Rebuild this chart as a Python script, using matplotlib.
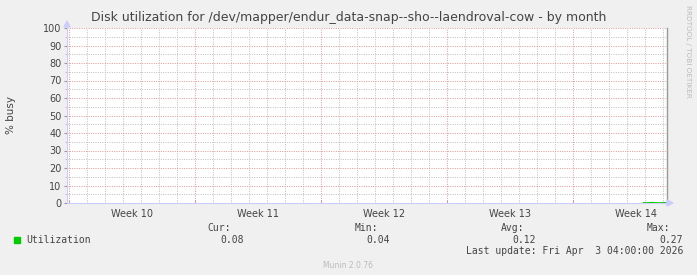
import matplotlib
matplotlib.use("Agg")
import matplotlib.pyplot as plt
from matplotlib.ticker import MultipleLocator, FixedLocator, FixedFormatter

W, H = 697, 275

# data: days since start of Week 10 (Mon), % busy
times = [31.90, 32.07, 32.24, 32.41, 32.58, 32.75, 32.92, 33.09, 33.18]
busy = [0.10, 0.08, 0.15, 0.27, 0.12, 0.04, 0.11, 0.13, 0.08]

week_labels = ["Week 10", "Week 11", "Week 12", "Week 13", "Week 14"]
week_starts = [0, 7, 14, 21, 28]
week_mids = [3.5, 10.5, 17.5, 24.5, 31.5]

stat_names = ["Cur:", "Min:", "Avg:", "Max:"]
stat_values = ["0.08", "0.04", "0.12", "0.27"]

TEXT = "#444444"
MONO = "DejaVu Sans Mono"


def px(x, y):
    return x / W, 1 - y / H


fig = plt.figure(figsize=(W / 100, H / 100), dpi=100, facecolor="#F0F0F0")
left, right, top, bottom = 67, 666.5, 28, 203
ax = fig.add_axes([left / W, 1 - bottom / H, (right - left) / W, (bottom - top) / H])
ax.set_facecolor("white")

ax.plot(times, busy, color="#00CC00", lw=1.0, zorder=4)

ax.set_xlim(-0.128, 33.18)
ax.set_ylim(0, 100)

# grid
dots = (0, (1, 1.4))
for d in range(0, 34):
    if d in week_starts:
        continue
    ax.axvline(d, color="#bdbdbd", lw=0.7, ls=dots, zorder=1)
for d in week_starts:
    ax.axvline(d, color="#e49595", lw=0.7, ls=dots, zorder=2)
for v in range(5, 100, 10):
    ax.axhline(v, color="#bdbdbd", lw=0.7, ls=dots, zorder=1)
for v in range(10, 101, 10):
    ax.axhline(v, color="#e49595", lw=0.7, ls=dots, zorder=2)

ax.yaxis.set_major_locator(MultipleLocator(10))
ax.yaxis.set_minor_locator(MultipleLocator(5))
ax.xaxis.set_major_locator(FixedLocator(week_mids))
ax.xaxis.set_major_formatter(FixedFormatter(week_labels))
ax.xaxis.set_minor_locator(FixedLocator(week_starts))
ax.tick_params(axis="x", which="major", length=0, labelsize=7, labelcolor=TEXT, pad=4)
ax.tick_params(axis="x", which="minor", length=2, color="#e08080", direction="in")
ax.tick_params(axis="y", which="major", length=2, color="#999999", labelsize=7,
               labelcolor=TEXT, pad=2)
ax.tick_params(axis="y", which="minor", length=1.5, color="#bbbbbb")

ax.spines["top"].set_visible(False)
ax.spines["right"].set_color("#999999")
ax.spines["right"].set_linewidth(1.0)
ax.spines["left"].set_color("#ccccff")
ax.spines["bottom"].set_color("#ccccff")
ax.spines["left"].set_linewidth(0.8)
ax.spines["bottom"].set_linewidth(0.8)

# axis arrows
fig.patches.append(plt.Polygon([px(64, 27), px(70, 27), px(67, 21)], closed=True,
                               transform=fig.transFigure, color="#ccccff"))
fig.patches.append(plt.Polygon([px(667, 200), px(667, 206), px(673, 203)], closed=True,
                               transform=fig.transFigure, color="#ccccff"))

# titles
fig.text(*px(348.5, 17), "Disk utilization for /dev/mapper/endur_data-snap--sho--laendroval-cow - by month",
         ha="center", va="center", fontsize=9, color=TEXT)
fig.text(*px(11, 115), "% busy", rotation=90, ha="center", va="center", fontsize=7.5, color=TEXT)
fig.text(*px(688, 5), "RRDTOOL / TOBI OETIKER", rotation=270, ha="center", va="top",
         fontsize=5.2, color="#BBBBBB")
fig.text(*px(348, 265), "Munin 2.0.76", ha="center", va="center", fontsize=5.5, color="#BBBBBB")

# legend
fig.patches.append(plt.Rectangle(px(14, 243), 6 / W, 6 / H, transform=fig.transFigure,
                                 color="#00CC00"))
fig.text(*px(26, 240), "Utilization", ha="left", va="center", fontsize=7, color=TEXT, family=MONO)
name_right = [231, 378, 524, 670]
val_right = [244, 390, 536, 683]
for n, v, xn, xv in zip(stat_names, stat_values, name_right, val_right):
    fig.text(*px(xn, 228), n, ha="right", va="center", fontsize=7, color=TEXT, family=MONO)
    fig.text(*px(xv, 240), v, ha="right", va="center", fontsize=7, color=TEXT, family=MONO)
fig.text(*px(683, 251), "Last update: Fri Apr  3 04:00:00 2026", ha="right", va="center",
         fontsize=7, color=TEXT, family=MONO)

fig.savefig("out.png", dpi=100, facecolor=fig.get_facecolor())
